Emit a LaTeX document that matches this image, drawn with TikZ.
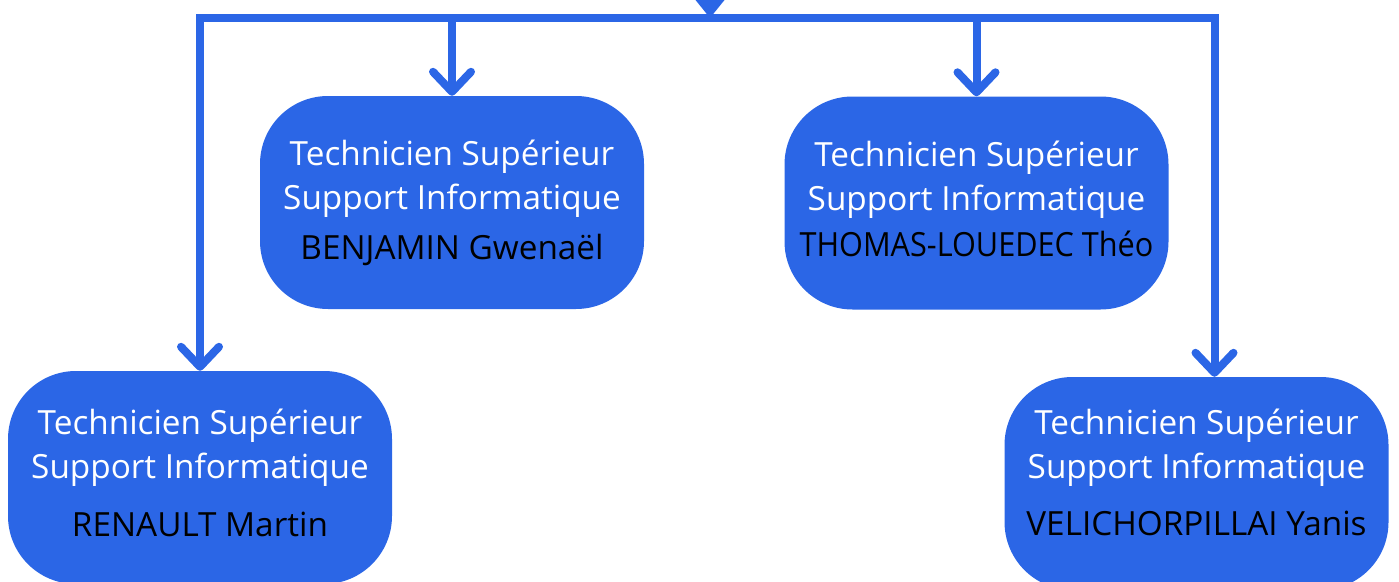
\documentclass[tikz,border=0pt]{standalone}
\usepackage{fontspec}
\setmainfont{Open Sans}
\usetikzlibrary{arrows.meta}
\definecolor{cblue}{RGB}{43,102,230}
\begin{document}
\begin{tikzpicture}[x=1pt,y=-1pt,
  box/.style={fill=cblue, rounded corners=68pt, minimum width=384pt, minimum height=213pt, inner sep=0pt},
  txt/.style={inner sep=0pt, align=center, font=\fontsize{33.3}{44}\selectfont},
  conn/.style={cblue, line width=8pt, -{Straight Barb[length=20pt,width=38pt,round]}}]
\useasboundingbox (0,0) rectangle (1399,581);
\node[box] (ben) at (452,202.5) {};
\node[box] (tho) at (976.5,203) {};
\node[box] (ren) at (200,477.5) {};
\node[box] (vel) at (1196.5,483.5) {};
\node[txt] (bent) at (ben.center) {\textcolor{white}{Technicien Supérieur}\\\textcolor{white}{Support Informatique}\\[6pt]BENJAMIN Gwenaël};
\node[txt] (thot) at ([yshift=4pt]tho.center) {\textcolor{white}{Technicien Supérieur}\\\textcolor{white}{Support Informatique}\\[2pt]\scalebox{0.92}[1]{THOMAS-LOUEDEC Théo}};
\node[txt] (rent) at ([yshift=5pt]ren.center) {\textcolor{white}{Technicien Supérieur}\\\textcolor{white}{Support Informatique}\\[14pt]RENAULT Martin};
\node[txt] (velt) at ([yshift=11pt]vel.center) {\textcolor{white}{Technicien Supérieur}\\\textcolor{white}{Support Informatique}\\[13pt]VELICHORPILLAI Yanis};
\coordinate (hub) at (710,18);
\draw[conn] (hub) -| (ren.north);
\draw[conn] (hub) -| ([xshift=18pt]vel.north);
\draw[conn] (hub) -| (ben.north);
\draw[conn] (hub) -| (tho.north);
\fill[cblue] (hub) -- ++(-14.5,-18) -- ++(29,0) -- cycle;
\end{tikzpicture}
\end{document}
